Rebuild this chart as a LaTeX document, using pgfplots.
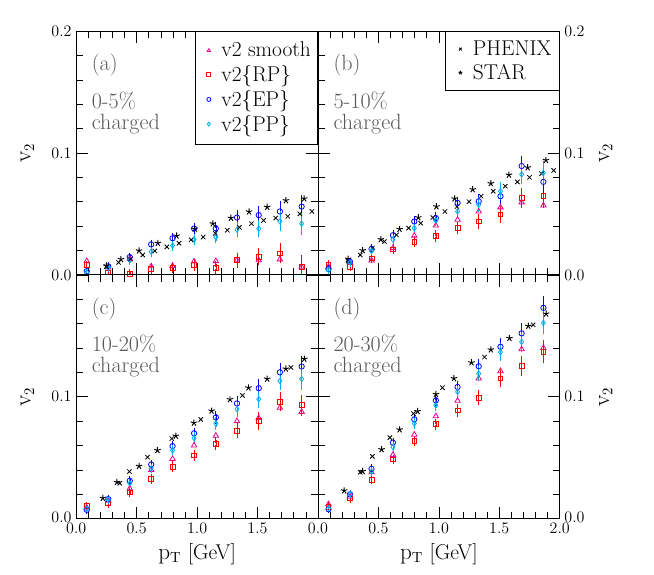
\documentclass[border=0pt]{standalone}
\usepackage{pgfplots}
\pgfplotsset{compat=1.18}
\usepackage{pgfplotstable}
\usepgfplotslibrary{groupplots}
\usetikzlibrary{calc}

% model tables: x, smooth, RP, EP, PP, error
\pgfplotstableread{
x     sm     rp     ep     pp     e
0.087 0.0113 0.0080 0.0030 0.0020 0.0012
0.265 0.0060 0.0020 0.0070 0.0060 0.0012
0.443 0.0130 0.0010 0.0146 0.0120 0.0015
0.620 0.0070 0.0050 0.0250 0.0190 0.0018
0.797 0.0074 0.0060 0.0300 0.0240 0.0020
0.975 0.0110 0.0080 0.0380 0.0290 0.0025
1.155 0.0113 0.0060 0.0380 0.0310 0.0030
1.330 0.0120 0.0120 0.0470 0.0370 0.0040
1.510 0.0120 0.0150 0.0490 0.0380 0.0050
1.685 0.0127 0.0176 0.0520 0.0440 0.0060
1.865 0.0066 0.0066 0.0560 0.0420 0.0075
}\tA
\pgfplotstableread{
x     sm     rp     ep     pp     e
0.087 0.0066 0.0085 0.0047 0.0040 0.0012
0.265 0.0100 0.0066 0.0107 0.0102 0.0012
0.443 0.0118 0.0135 0.0212 0.0196 0.0015
0.620 0.0220 0.0209 0.0325 0.0290 0.0018
0.797 0.0322 0.0273 0.0438 0.0383 0.0020
0.975 0.0405 0.0317 0.0466 0.0444 0.0025
1.155 0.0452 0.0383 0.0590 0.0521 0.0030
1.330 0.0520 0.0438 0.0603 0.0575 0.0040
1.510 0.0554 0.0496 0.0645 0.0686 0.0050
1.685 0.0595 0.0630 0.0893 0.0824 0.0060
1.865 0.0570 0.0645 0.0763 0.0837 0.0075
}\tB
\pgfplotstableread{
x     sm     rp     ep     pp     e
0.087 0.0090 0.0105 0.0072 0.0080 0.0012
0.265 0.0146 0.0124 0.0160 0.0154 0.0012
0.443 0.0248 0.0215 0.0310 0.0290 0.0015
0.620 0.0400 0.0325 0.0444 0.0410 0.0018
0.797 0.0490 0.0427 0.0595 0.0560 0.0020
0.975 0.0600 0.0518 0.0700 0.0660 0.0025
1.155 0.0680 0.0614 0.0830 0.0780 0.0030
1.330 0.0800 0.0720 0.0945 0.0898 0.0040
1.510 0.0826 0.0800 0.1070 0.0980 0.0050
1.685 0.0910 0.0959 0.1200 0.1130 0.0055
1.865 0.0876 0.0930 0.1248 0.1146 0.0065
}\tC
\pgfplotstableread{
x     sm     rp     ep     pp     e
0.087 0.0118 0.0099 0.0077 0.0085 0.0012
0.265 0.0180 0.0165 0.0200 0.0200 0.0012
0.443 0.0380 0.0317 0.0408 0.0386 0.0015
0.620 0.0523 0.0485 0.0623 0.0587 0.0018
0.797 0.0689 0.0636 0.0815 0.0780 0.0020
0.975 0.0840 0.0774 0.0970 0.0930 0.0025
1.155 0.0967 0.0887 0.1080 0.1040 0.0030
1.330 0.1150 0.0990 0.1250 0.1190 0.0040
1.510 0.1210 0.1150 0.1410 0.1366 0.0050
1.685 0.1390 0.1250 0.1520 0.1450 0.0060
1.865 0.1400 0.1370 0.1730 0.1606 0.0072
}\tD

% data: PHENIX and STAR
\pgfplotstableread{
x    y
0.25 0.0066
0.35 0.0102
0.45 0.0130
0.55 0.0163
0.65 0.0196
0.75 0.0229
0.85 0.0259
0.95 0.0287
1.05 0.0310
1.15 0.0340
1.25 0.0366
1.35 0.0390
1.45 0.0420
1.55 0.0446
1.65 0.0466
1.75 0.0480
1.85 0.0500
1.95 0.0520
}\phA
\pgfplotstableread{
x     y
0.25  0.0074
0.37  0.0127
0.52  0.0198
0.675 0.0260
0.83  0.0320
0.98  0.0377
1.13  0.0420
1.28  0.0466
1.43  0.0518
1.58  0.0556
1.735 0.0610
1.886 0.0625
}\stA
\pgfplotstableread{
x    y
0.25 0.0113
0.35 0.0163
0.45 0.0220
0.55 0.0273
0.65 0.0328
0.75 0.0383
0.85 0.0424
0.95 0.0470
1.05 0.0520
1.15 0.0560
1.25 0.0600
1.35 0.0645
1.45 0.0686
1.55 0.0727
1.65 0.0763
1.75 0.0800
1.85 0.0830
1.95 0.0857
}\phB
\pgfplotstableread{
x     y
0.25  0.0130
0.37  0.0200
0.52  0.0290
0.675 0.0375
0.83  0.0470
0.98  0.0560
1.13  0.0625
1.28  0.0700
1.43  0.0750
1.58  0.0820
1.735 0.0880
1.886 0.0940
}\stB
\pgfplotstableread{
x     y
0.36  0.0290
0.44  0.0386
0.59  0.0504
0.79  0.0656
1.03  0.0813
1.375 0.1010
1.776 0.1240
}\phC
\pgfplotstableread{
x     y
0.22  0.0168
0.337 0.0298
0.52  0.0430
0.672 0.0560
0.824 0.0678
0.974 0.0785
1.12  0.0884
1.272 0.0978
1.425 0.1074
1.58  0.1146
1.734 0.1229
1.887 0.1310
}\stC
\pgfplotstableread{
x     y
0.35  0.0380
0.45  0.0510
0.595 0.0664
0.79  0.0862
1.03  0.1074
1.378 0.1325
1.78  0.1590
}\phD
\pgfplotstableread{
x     y
0.217 0.0229
0.369 0.0388
0.526 0.0567
0.675 0.0730
0.824 0.0880
0.976 0.1020
1.125 0.1150
1.27  0.1280
1.43  0.1386
1.584 0.1480
1.74  0.1580
1.887 0.1680
}\stD

\definecolor{annot}{gray}{0.35}
\newcommand{\afont}{\fontsize{16.5}{18}\selectfont}

\pgfplotsset{
  panel/.style={
    width=180.75pt, height=182.25pt, scale only axis,
    xmin=0, xmax=2, ymin=0, ymax=0.2,
    xtick={0,0.5,1,1.5,2}, ytick={0,0.1,0.2},
    minor x tick num=4, minor y tick num=4,
    tick align=inside, xtick pos=both, ytick pos=both,
    major tick length=9pt, minor tick length=5pt,
    tick style={black, line width=0.5pt},
    axis line style={line width=0.6pt},
    ticklabel style={font=\fontsize{12}{14}\selectfont},
    label style={font=\fontsize{16}{18}\selectfont},
    legend style={font=\fontsize{16}{17}\selectfont, draw=black,
      at={(1,1)}, anchor=north east, row sep=3pt,
      inner xsep=3pt, inner ysep=7pt, line width=0.5pt,
      nodes={inner ysep=1pt}},
    legend cell align=left,
    legend image code/.code={%
      \path (0cm,0cm) (0.5cm,0cm);
      \draw[mark repeat=2, mark phase=2, mark size=1.5pt]
        plot coordinates {(0.25cm,0cm) (0.25cm,0cm) (0.25cm,0cm)};},
  },
  errs/.style={error bars/y dir=both, error bars/y explicit,
    error bars/error mark options={mark size=2pt, line width=0.6pt}},
  msm/.style={only marks, mark=triangle, mark size=2.3pt, magenta, mark options={line width=0.6pt}},
  mrp/.style={only marks, mark=square, mark size=1.8pt, red, mark options={line width=0.6pt}, errs},
  mep/.style={only marks, mark=o, mark size=2pt, blue, mark options={line width=0.6pt}, errs},
  mpp/.style={only marks, mark=diamond, mark size=2pt, cyan, mark options={line width=0.6pt}, errs},
  mph/.style={only marks, mark=x, mark size=2.3pt, black, mark options={line width=0.6pt}},
  mst/.style={only marks, mark=star, mark size=2.5pt, black, mark options={line width=0.7pt}},
}

\begin{document}
\begin{tikzpicture}
\begin{groupplot}[group style={group size=2 by 2, horizontal sep=0pt, vertical sep=0pt}, panel]
% (a)
\nextgroupplot[xticklabels={}, yticklabels={0.0,0.1,0.2}, ylabel={$\mathrm{v}_2$}, ylabel shift=6pt]
\addplot[msm] table[x=x, y=sm] {\tA};
\addlegendentry{v2 smooth}
\addplot[mrp] table[x=x, y=rp, y error=e] {\tA};
\addlegendentry{v2\{RP\}}
\addplot[mep] table[x=x, y=ep, y error=e] {\tA};
\addlegendentry{v2\{EP\}}
\addplot[mpp] table[x=x, y=pp, y error=e] {\tA};
\addlegendentry{v2\{PP\}}
\addplot[forget plot, mph] table {\phA};
\addplot[forget plot, mst] table {\stA};
\node[anchor=west, text=annot, font=\afont] at (axis cs:0.09,0.172) {(a)};
\node[anchor=west, text=annot, font=\afont] at (axis cs:0.09,0.143) {0-5\%};
\node[anchor=west, text=annot, font=\afont] at (axis cs:0.09,0.124) {charged};
% (b)
\nextgroupplot[xticklabels={}, yticklabel pos=right, yticklabels={0.0,0.1,0.2}, ylabel={$\mathrm{v}_2$},
  ylabel shift=4pt, legend style={inner xsep=4pt, inner ysep=6pt}]
\addplot[mph] table {\phB};
\addlegendentry{PHENIX}
\addplot[mst] table {\stB};
\addlegendentry{STAR}
\addplot[forget plot, msm] table[x=x, y=sm] {\tB};
\addplot[forget plot, mrp] table[x=x, y=rp, y error=e] {\tB};
\addplot[forget plot, mep] table[x=x, y=ep, y error=e] {\tB};
\addplot[forget plot, mpp] table[x=x, y=pp, y error=e] {\tB};
\node[anchor=west, text=annot, font=\afont] at (axis cs:0.09,0.172) {(b)};
\node[anchor=west, text=annot, font=\afont] at (axis cs:0.09,0.143) {5-10\%};
\node[anchor=west, text=annot, font=\afont] at (axis cs:0.09,0.124) {charged};
% (c)
\nextgroupplot[xticklabels={0.0,0.5,1.0,1.5,}, yticklabels={\raisebox{2pt}{0.0},0.1,}, ylabel={$\mathrm{v}_2$},
  ylabel shift=6pt, xlabel={$\mathrm{p}_\mathrm{T}$ [GeV]}]
\addplot[msm] table[x=x, y=sm] {\tC};
\addplot[mrp] table[x=x, y=rp, y error=e] {\tC};
\addplot[mep] table[x=x, y=ep, y error=e] {\tC};
\addplot[mpp] table[x=x, y=pp, y error=e] {\tC};
\addplot[mph] table {\phC};
\addplot[mst] table {\stC};
\node[anchor=west, text=annot, font=\afont] at (axis cs:0.09,0.172) {(c)};
\node[anchor=west, text=annot, font=\afont] at (axis cs:0.09,0.143) {10-20\%};
\node[anchor=west, text=annot, font=\afont] at (axis cs:0.09,0.124) {charged};
% (d)
\nextgroupplot[xticklabels={0.0,0.5,1.0,1.5,2.0}, yticklabel pos=right, yticklabels={\raisebox{2pt}{0.0},0.1,},
  ylabel={$\mathrm{v}_2$}, ylabel shift=4pt, xlabel={$\mathrm{p}_\mathrm{T}$ [GeV]}]
\addplot[msm] table[x=x, y=sm] {\tD};
\addplot[mrp] table[x=x, y=rp, y error=e] {\tD};
\addplot[mep] table[x=x, y=ep, y error=e] {\tD};
\addplot[mpp] table[x=x, y=pp, y error=e] {\tD};
\addplot[mph] table {\phD};
\addplot[mst] table {\stD};
\node[anchor=west, text=annot, font=\afont] at (axis cs:0.09,0.172) {(d)};
\node[anchor=west, text=annot, font=\afont] at (axis cs:0.09,0.143) {20-30\%};
\node[anchor=west, text=annot, font=\afont] at (axis cs:0.09,0.124) {charged};
\end{groupplot}
\path ($(group c1r1.north west)+(-57pt,23.25pt)$) rectangle ($(group c2r2.south east)+(70.5pt,-42pt)$);
\end{tikzpicture}
\end{document}
